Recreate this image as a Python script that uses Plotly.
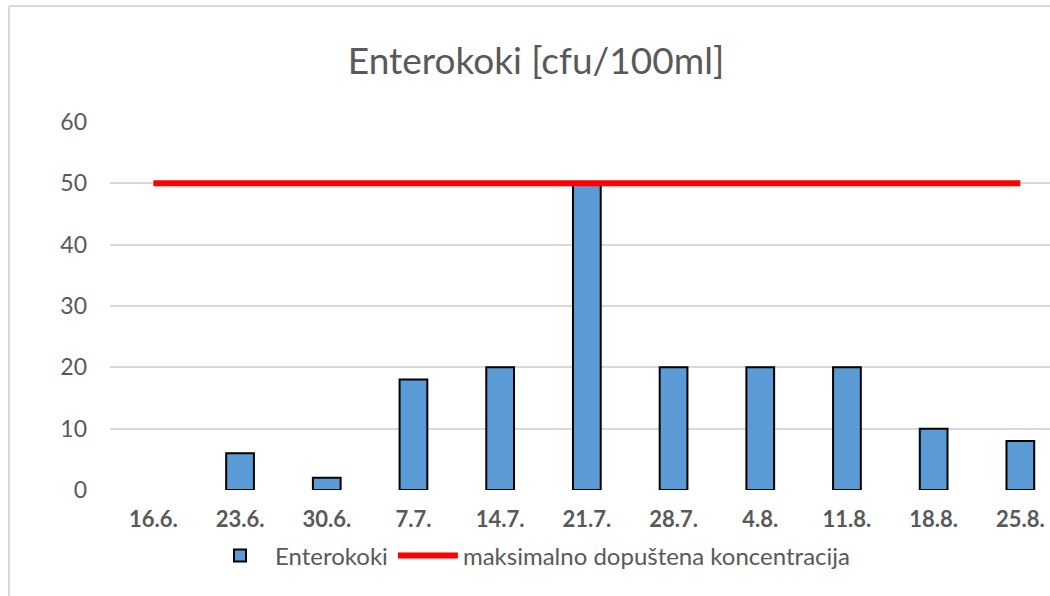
import plotly.graph_objects as go

categories = ["16.6.", "23.6.", "30.6.", "7.7.", "14.7.", "21.7.", "28.7.", "4.8.", "11.8.", "18.8.", "25.8."]
enterokoki = [None, 6, 2, 18, 20, 50, 20, 20, 20, 10, 8]
max_limit = [50] * len(categories)
y_ticks = [0, 10, 20, 30, 40, 50, 60]

FONT = "Lato"
GRAY = "#595959"

fig = go.Figure()
fig.add_trace(go.Bar(
    x=categories, y=enterokoki, name="Enterokoki",
    marker=dict(color="#5b9bd5", line=dict(color="#000000", width=2)),
    width=0.32,
))
fig.add_trace(go.Scatter(
    x=categories, y=max_limit, name="maksimalno dopuštena koncentracija",
    mode="lines", line=dict(color="#ff0000", width=6),
))

L, T, B = 110, 122, 106
W, H = 1050, 596
pw = W - L
ph = H - T - B

def px_to_xpaper(px):
    return (px - L) / pw

def px_to_ypaper(py):
    return (H - B - py) / ph

fig.update_layout(
    width=W, height=H,
    margin=dict(l=L, r=0, t=T, b=B, pad=0),
    paper_bgcolor="white", plot_bgcolor="white",
    font=dict(family=FONT, color=GRAY),
    title=dict(text="Enterokoki [cfu/100ml]", x=536 / W, xanchor="center",
               y=1 - 61 / H, yanchor="middle", font=dict(size=37, color=GRAY, family=FONT)),
    xaxis=dict(
        type="category", categoryorder="array", categoryarray=categories,
        range=[-0.5, -0.5 + pw / 86.7],
        showgrid=False, showline=False, zeroline=False, ticks="",
        tickfont=dict(size=22, color=GRAY, family=FONT, weight="bold"),
        ticklabelstandoff=14,
    ),
    yaxis=dict(
        range=[0, 60], tickvals=y_ticks, showgrid=True, gridcolor="#d9d9d9", gridwidth=1.5,
        zeroline=False, showline=False, ticks="",
        tickfont=dict(size=23, color=GRAY, family=FONT),
        ticklabelstandoff=22,
    ),
    legend=dict(orientation="h", x=px_to_xpaper(530), xanchor="center",
                y=px_to_ypaper(556), yanchor="middle",
                font=dict(size=24, color=GRAY, family=FONT),
                itemwidth=60, traceorder="normal"),
    showlegend=True,
    shapes=[
        dict(type="line", xref="paper", yref="paper",
             x0=px_to_xpaper(9), x1=px_to_xpaper(9), y0=px_to_ypaper(H), y1=px_to_ypaper(6),
             line=dict(color="#d9d9d9", width=2)),
        dict(type="line", xref="paper", yref="paper",
             x0=px_to_xpaper(9), x1=1.0, y0=px_to_ypaper(6), y1=px_to_ypaper(6),
             line=dict(color="#d9d9d9", width=2)),
    ],
)

fig.write_html("out.html", config={"displayModeBar": False},
               post_script="document.body.style.margin='0';document.body.style.overflow='hidden';")
